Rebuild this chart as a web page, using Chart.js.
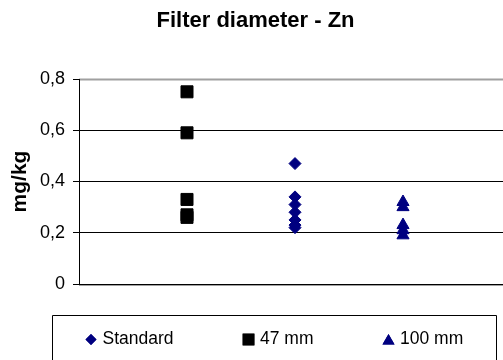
<!DOCTYPE html>
<html>
<head>
<meta charset="utf-8">
<script src="https://cdn.jsdelivr.net/npm/chart.js@4/dist/chart.umd.min.js"></script>
<style>
  html, body { margin: 0; padding: 0; background: #fff; overflow: hidden; }
  canvas { display: block; }
</style>
</head>
<body>
<canvas id="chart" width="530" height="360"></canvas>
<script>
// Groups along the x axis (position = index + 1)
var GROUPS = ['47 mm', 'Standard', '100 mm'];

// Zn values, mg/kg, per filter diameter
var ZN_STANDARD = [0.47, 0.34, 0.31, 0.28, 0.25, 0.23, 0.22];
var ZN_47MM = [0.75, 0.59, 0.33, 0.27, 0.26];
var ZN_100MM = [0.32, 0.30, 0.23, 0.21, 0.19];

var Y_TICKS = [0, 0.2, 0.4, 0.6, 0.8];

var FONT = "'Liberation Sans', Arial, sans-serif";
var NAVY = '#000080';

function groupPoints(group, values) {
  var x = GROUPS.indexOf(group) + 1;
  return values.map(function (v) { return { x: x, y: v }; });
}

function fmtTick(v) {
  return v === 0 ? '0' : v.toFixed(1).replace('.', ',');
}

// grey plot-area frame (top + bottom), drawn before the axes
var plotFrame = {
  id: 'plotFrame',
  beforeDraw: function (chart) {
    var a = chart.chartArea, ctx = chart.ctx;
    ctx.save();
    ctx.strokeStyle = '#a0a0a0';
    ctx.lineWidth = 2;
    ctx.beginPath();
    ctx.moveTo(a.left, a.top + 0.5);
    ctx.lineTo(a.right, a.top + 0.5);
    ctx.moveTo(a.left, a.bottom + 1);
    ctx.lineTo(a.right, a.bottom + 1);
    ctx.stroke();
    ctx.restore();
  }
};

// Excel-style boxed legend below the plot
var boxLegend = {
  id: 'boxLegend',
  afterDraw: function (chart) {
    var ctx = chart.ctx;
    var a = chart.chartArea;
    var boxLeft = a.left - 27, boxTop = 315.5, boxRight = 496.5;
    ctx.save();
    ctx.strokeStyle = '#000';
    ctx.lineWidth = 1;
    ctx.beginPath();
    ctx.moveTo(boxLeft + 0.5, 370);
    ctx.lineTo(boxLeft + 0.5, boxTop);
    ctx.lineTo(boxRight, boxTop);
    ctx.lineTo(boxRight, 370);
    ctx.stroke();

    ctx.font = '17.5px ' + FONT;
    ctx.textBaseline = 'middle';
    ctx.fillStyle = '#000';
    var x = 85, y = 339.5;
    chart.data.datasets.forEach(function (ds) {
      var style = ds.pointStyle;
      var r = style === 'rectRot' ? 5.5 : (style === 'rect' ? 8.3 : 7);
      var cx = x + 6, cy = y + (style === 'triangle' ? 1.5 : 0);
      ctx.fillStyle = ds.backgroundColor;
      Chart.helpers.drawPoint(ctx, { pointStyle: style, radius: r, borderWidth: 0 }, cx, cy);
      ctx.fill();
      ctx.fillStyle = '#000';
      var tx = x + 17.5;
      ctx.fillText(ds.label, tx, y);
      x = tx + ctx.measureText(ds.label).width + 69;
    });
    ctx.restore();
  }
};

new Chart(document.getElementById('chart'), {
  type: 'scatter',
  data: {
    datasets: [
      {
        label: 'Standard',
        data: groupPoints('Standard', ZN_STANDARD),
        pointStyle: 'rectRot',
        pointRadius: 6,
        backgroundColor: NAVY,
        borderColor: NAVY,
        borderWidth: 1,
      },
      {
        label: '47 mm',
        data: groupPoints('47 mm', ZN_47MM),
        pointStyle: 'rect',
        pointRadius: 8.5,
        backgroundColor: '#000',
        borderColor: '#000',
        borderWidth: 1,
      },
      {
        label: '100 mm',
        data: groupPoints('100 mm', ZN_100MM),
        pointStyle: 'triangle',
        pointRadius: 7,
        backgroundColor: NAVY,
        borderColor: NAVY,
        borderWidth: 1,
      },
    ],
  },
  options: {
    responsive: false,
    animation: false,
    layout: { padding: { left: 0, right: 19, top: 0, bottom: 0 } },
    plugins: {
      legend: { display: false },
      tooltip: { enabled: false },
      title: {
        display: true,
        text: 'Filter diameter - Zn',
        color: '#000',
        font: { family: FONT, size: 22, weight: 'bold' },
        padding: { top: 8, bottom: 44.6 },
      },
    },
    scales: {
      x: {
        type: 'linear',
        min: 0,
        max: GROUPS.length + 1,
        ticks: { display: false },
        grid: { display: false },
        border: { display: true, color: '#000', width: 1 },
        afterFit: function (s) { s.height = 76; },
      },
      y: {
        min: 0,
        max: 0.8,
        afterBuildTicks: function (s) {
          s.ticks = Y_TICKS.map(function (v) { return { value: v }; });
        },
        ticks: {
          color: '#000',
          padding: 8,
          font: { family: FONT, size: 18 },
          callback: function (v) { return fmtTick(v); },
        },
        grid: {
          color: function (ctx) {
            var v = ctx.tick ? ctx.tick.value : 0;
            return (v > 0 && v < 0.8) ? '#000' : 'rgba(0,0,0,0)';
          },
          tickColor: '#000',
          tickLength: 6,
          lineWidth: 1,
        },
        border: { display: true, color: '#000', width: 1 },
        title: {
          display: true,
          text: 'mg/kg',
          color: '#000',
          font: { family: FONT, size: 21, weight: 'bold' },
          padding: { top: 8, bottom: 0 },
        },
        afterFit: function (s) { s.width = 79; },
      },
    },
  },
  plugins: [plotFrame, boxLegend],
});
</script>
</body>
</html>
